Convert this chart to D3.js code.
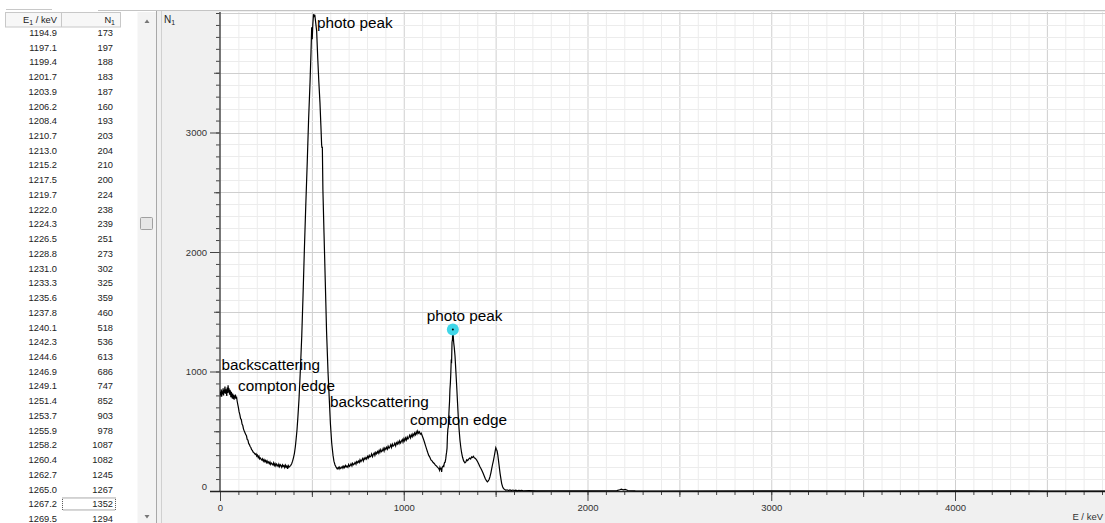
<!DOCTYPE html>
<html><head><meta charset="utf-8">
<script src="https://cdn.jsdelivr.net/npm/d3@7"></script>
<style>html,body{margin:0;padding:0;background:#fff;overflow:hidden}svg{display:block}</style>
</head><body><svg id="c" width="1105" height="523"></svg>
<script>
// ---------------- data ----------------
const tableE = ["1194.9","1197.1","1199.4","1201.7","1203.9","1206.2","1208.4","1210.7","1213.0","1215.2","1217.5","1219.7","1222.0","1224.3","1226.5","1228.8","1231.0","1233.3","1235.6","1237.8","1240.1","1242.3","1244.6","1246.9","1249.1","1251.4","1253.7","1255.9","1258.2","1260.4","1262.7","1265.0","1267.2","1269.5"];
const tableN = [173,197,188,183,187,160,193,203,204,210,200,224,238,239,251,273,302,325,359,460,518,536,613,686,747,852,903,978,1087,1082,1245,1267,1352,1294];
const selectedRow = 32;

const spectrumLow = [[0,790],[2,830],[4,805],[7,850],[9,790],[12,835],[14,810],[17,860],[19,800],[22,845],[24,820],[27,875],[29,815],[32,850],[34,835],[37,795],[39,865],[42,820],[44,885],[47,825],[49,860],[52,805],[54,845],[57,830],[59,785],[62,830],[64,800],[67,775],[69,815],[72,770],[74,805],[77,765],[79,798],[82,780],[84,806],[87,770],[90,790],[93,755],[96,730],[100,700],[104,662],[108,640],[112,606],[116,598],[120,560],[124,548],[128,518],[132,502],[136,488],[140,472],[144,462],[148,432],[152,426],[156,398],[160,388],[164,372],[168,364],[172,346],[176,340],[180,326],[184,322],[188,312],[192,306],[196,312],[200,292],[204,300],[208,280],[212,292],[216,268],[220,276],[224,266],[228,258],[232,270],[236,250],[240,262],[244,246],[248,256],[252,238],[256,252],[260,236],[264,244],[268,228],[272,242],[276,222],[280,234],[284,226],[288,218],[292,236],[296,214],[300,228],[304,210],[308,226],[312,216],[316,206],[320,224],[324,204],[328,220],[332,212],[336,198],[340,218],[344,206],[348,214],[352,196],[356,216],[360,200],[364,210],[368,186],[372,212],[376,200],[380,206],[385,215],[390,228],[395,250],[400,280],[405,315],[410,370],[414,430],[419,510],[424,620],[430,770],[437,1000],[445,1300],[452,1640],[459,2010],[467,2400],[475,2760],[482,3100],[490,3420],[495,3660],[499,3880],[502,3780],[505,3900],[509,3990],[512,3965],[516,3985],[520,3930],[526,3850],[532,3620],[538,3420],[544,3250],[549,3060],[553,2900],[555,2870],[557,2880],[560,2520],[566,2160],[573,1750],[580,1330],[588,990],[595,760],[601,560],[608,400],[615,300],[620,250],[626,218],[632,200],[638,185]];
const spectrumMid = [[644,198],[648,184],[652,200],[657,188],[661,196],[665,205],[669,190],[674,208],[678,196],[683,214],[687,201],[691,209],[696,198],[700,222],[705,206],[709,214],[713,228],[718,210],[722,232],[727,220],[731,226],[735,240],[740,224],[744,246],[749,236],[753,250],[758,238],[762,262],[767,246],[771,258],[776,272],[780,252],[785,276],[789,266],[794,280],[798,268],[803,290],[807,276],[812,298],[816,284],[821,292],[825,310],[830,288],[834,306],[839,318],[843,298],[848,324],[852,312],[857,330],[861,316],[866,340],[870,322],[875,346],[879,330],[884,338],[888,356],[893,334],[897,360],[902,348],[906,366],[911,350],[915,376],[920,358],[924,368],[929,386],[933,364],[938,392],[942,376],[947,384],[951,400],[956,378],[960,404],[965,392],[969,412],[974,396],[978,420],[983,402],[987,416],[992,430],[996,408],[1001,438],[1005,420],[1010,444],[1014,426],[1019,452],[1023,436],[1028,448],[1032,466],[1037,444],[1041,470],[1046,454],[1050,478],[1055,462],[1059,486],[1064,470],[1068,494],[1072,478],[1076,502],[1080,484],[1085,496],[1090,476],[1095,484],[1100,465],[1106,440],[1112,412],[1118,382],[1124,352],[1130,324],[1136,298],[1142,282],[1148,260],[1154,252],[1160,238],[1166,230],[1172,216],[1178,210],[1184,198],[1190,190]];
const spectrumHigh = [[1272,1240],[1275,1200],[1279,1130],[1283,1020],[1288,880],[1293,730],[1297,610],[1302,500],[1306,425],[1311,360],[1315,318],[1320,282],[1326,252],[1333,236],[1338,244],[1343,262],[1348,255],[1354,268],[1359,275],[1364,268],[1369,285],[1374,280],[1379,290],[1384,278],[1390,272],[1396,260],[1402,245],[1408,225],[1414,205],[1420,188],[1426,170],[1432,148],[1438,125],[1444,102],[1450,86],[1455,76],[1460,84],[1465,98],[1469,118],[1474,150],[1479,190],[1484,228],[1488,255],[1493,295],[1497,330],[1501,362],[1504,350],[1508,335],[1512,300],[1516,250],[1520,200],[1524,150],[1529,100],[1533,62],[1538,36],[1543,20],[1550,12],[1556,6],[1562,10],[1570,4],[1578,9],[1586,3],[1594,8],[1602,4],[1610,7],[1618,2],[1626,6],[1634,3],[1642,6],[1650,2],[1680,3],[1720,1],[1800,2],[1900,1],[2000,1],[2100,2],[2160,3],[2175,10],[2185,16],[2195,9],[2205,14],[2220,4],[2260,1],[2400,0],[3000,1],[3500,0],[4000,1],[4500,0],[5000,0]];

const xTickLabels = [0,1000,2000,3000,4000];
const yTickLabels = [0,1000,2000,3000];
const annotationText = ["photo peak","backscattering","compton edge","backscattering","compton edge","photo peak"];
const annotationE = [528,8,98,599,1034,1125];
const annotationN = [3874,1013,837,703,552,1425];

// ---------------- layout ----------------
const svg = d3.select("#c");
const PL = 220, PB = 491, PT = 12, W = 1105;
const x = d3.scaleLinear().domain([0,5000]).range([PL, PL + 918.75]);
const y = d3.scaleLinear().domain([0,4000]).range([PB, 13]);
const SANS = "'Liberation Sans', Arial, sans-serif";

// backgrounds
svg.append("rect").attr("x",0).attr("y",0).attr("width",W).attr("height",523).attr("fill","#fff");
svg.append("rect").attr("x",157).attr("y",11).attr("width",W-157).attr("height",512).attr("fill","#f0f0f0");
svg.append("rect").attr("x",PL).attr("y",PT).attr("width",W-PL).attr("height",PB-PT).attr("fill","#fff");
svg.append("line").attr("x1",98).attr("x2",W).attr("y1",10.5).attr("y2",10.5).attr("stroke","#c4c4c4");
svg.append("line").attr("x1",6).attr("x2",52).attr("y1",9.5).attr("y2",9.5).attr("stroke","#c8c8c8");

// ---------------- table ----------------
const tbl = svg.append("g").attr("font-family",SANS).attr("font-size",9.3).attr("fill","#222");
tbl.append("rect").attr("x",5.5).attr("y",12.5).attr("width",115).attr("height",14.5).attr("fill","#f7f7f7").attr("stroke","#c8c8c8");
tbl.append("line").attr("x1",61.5).attr("x2",61.5).attr("y1",12.5).attr("y2",27).attr("stroke","#c8c8c8");
const h1 = tbl.append("text").attr("x",57).attr("y",23).attr("text-anchor","end");
h1.append("tspan").text("E");
h1.append("tspan").attr("font-size",7).attr("dy",2).text("1");
h1.append("tspan").attr("dy",-2).text(" / keV");
const h2 = tbl.append("text").attr("x",115).attr("y",23).attr("text-anchor","end");
h2.append("tspan").text("N");
h2.append("tspan").attr("font-size",7).attr("dy",2).text("1");
const rowY = i => 32.6 + i*14.73;
tbl.selectAll("text.e").data(tableE).join("text").attr("class","e")
  .attr("x",57).attr("y",(d,i)=>rowY(i)+3.3).attr("text-anchor","end").text(d=>d);
tbl.selectAll("text.n").data(tableN).join("text").attr("class","n")
  .attr("x",113).attr("y",(d,i)=>rowY(i)+3.3).attr("text-anchor","end").text(d=>d);
tbl.append("rect").attr("x",62.5).attr("y",rowY(selectedRow)-6).attr("width",53).attr("height",12)
  .attr("fill","none").attr("stroke","#555").attr("stroke-dasharray","1,1");

// scrollbar
svg.append("rect").attr("x",137.5).attr("y",12).attr("width",19).attr("height",511).attr("fill","#f3f3f3");
svg.append("line").attr("x1",156.5).attr("x2",156.5).attr("y1",11).attr("y2",523).attr("stroke","#a8a8a8");
svg.append("line").attr("x1",161.5).attr("x2",161.5).attr("y1",11).attr("y2",523).attr("stroke","#d0d0d0");
svg.append("path").attr("d","M144.5,23 L147,19.5 L149.5,23 Z").attr("fill","#777");
svg.append("path").attr("d","M144.5,515 L147,518.5 L149.5,515 Z").attr("fill","#777");
svg.append("rect").attr("x",140.5).attr("y",217.5).attr("width",12).attr("height",12).attr("fill","#e6e6e6").attr("stroke","#a0a0a0").attr("rx",1);

// ---------------- grid ----------------
const grid = svg.append("g");
const xMinor = d3.range(100,5001,100);
const yMinor = d3.range(100,4001,100);
grid.selectAll("line.vx").data(xMinor).join("line")
  .attr("x1",d=>x(d)+0.5).attr("x2",d=>x(d)+0.5).attr("y1",PT).attr("y2",PB)
  .attr("stroke",d=>d%500===0?"#cfcfcf":"#ececec");
grid.selectAll("line.hy").data(yMinor).join("line")
  .attr("y1",d=>Math.round(y(d))+0.5).attr("y2",d=>Math.round(y(d))+0.5).attr("x1",PL).attr("x2",W)
  .attr("stroke",d=>d%500===0?"#cfcfcf":"#ececec");

// ---------------- axes ----------------
function styleAxis(g){ g.select(".domain").remove(); g.selectAll("line").attr("stroke","#444"); }
const yAx = svg.append("g").attr("transform",`translate(${PL},0)`);
yAx.append("g").call(d3.axisLeft(y).tickValues(yMinor).tickSize(4).tickFormat("")).call(styleAxis);
yAx.append("g").call(d3.axisLeft(y).tickValues(d3.range(500,4001,1000)).tickSize(6).tickFormat("")).call(styleAxis);
const yMaj = yAx.append("g").call(d3.axisLeft(y).tickValues(yTickLabels).tickSize(10).tickPadding(3).tickFormat(d3.format("d"))).call(styleAxis);
yMaj.selectAll("text").attr("font-family",SANS).attr("font-size",9.5).attr("fill","#333")
  .attr("dy",d=>d===0?"-0.2em":"0.32em");

const xAx = svg.append("g").attr("transform",`translate(0,${PB})`);
xAx.append("g").call(d3.axisBottom(x).tickValues(xMinor).tickSize(4).tickFormat("")).call(styleAxis);
xAx.append("g").call(d3.axisBottom(x).tickValues(d3.range(500,5001,1000)).tickSize(6).tickFormat("")).call(styleAxis);
const xMaj = xAx.append("g").call(d3.axisBottom(x).tickValues(xTickLabels).tickSize(10).tickPadding(3).tickFormat(d3.format("d"))).call(styleAxis);
xMaj.selectAll("text").attr("font-family",SANS).attr("font-size",9.5).attr("fill","#333");

svg.append("line").attr("x1",PL).attr("x2",PL).attr("y1",PT).attr("y2",PB+1).attr("stroke","#555").attr("stroke-width",1.6);
svg.append("line").attr("x1",210).attr("x2",W).attr("y1",PB+0.5).attr("y2",PB+0.5).attr("stroke","#222").attr("stroke-width",1.6);

// axis titles
const yt = svg.append("text").attr("x",164).attr("y",23).attr("font-family",SANS).attr("font-size",10).attr("fill","#222");
yt.append("tspan").text("N"); yt.append("tspan").attr("font-size",7).attr("dy",2).text("1");
svg.append("text").attr("x",1103).attr("y",520).attr("text-anchor","end").attr("font-family",SANS).attr("font-size",9.5).attr("fill","#333").text("E / keV");

// ---------------- spectrum ----------------
const tablePts = tableE.map((e,i)=>[+e, tableN[i]]);
const spectrum = spectrumLow.concat(spectrumMid, tablePts, spectrumHigh);
svg.append("clipPath").attr("id","pc").append("rect").attr("x",PL).attr("y",PT).attr("width",W-PL).attr("height",PB-PT+1);
svg.append("path").datum(spectrum).attr("clip-path","url(#pc)")
  .attr("d",d3.line().x(d=>x(d[0])).y(d=>y(d[1])))
  .attr("fill","none").attr("stroke","#000").attr("stroke-width",1.2);

// cursor marker
const sel = tablePts[selectedRow];
svg.append("circle").attr("cx",x(sel[0])).attr("cy",y(sel[1])).attr("r",6).attr("fill","#3fd6e8");
svg.append("circle").attr("cx",x(sel[0])).attr("cy",y(sel[1])).attr("r",1).attr("fill","#000");

// annotations
svg.selectAll("text.ann").data(annotationText).join("text").attr("class","ann")
  .attr("x",(d,i)=>x(annotationE[i])).attr("y",(d,i)=>y(annotationN[i]))
  .attr("font-family",SANS).attr("font-size",15.3).attr("fill","#000")
  .text(d=>d);
</script></body></html>
